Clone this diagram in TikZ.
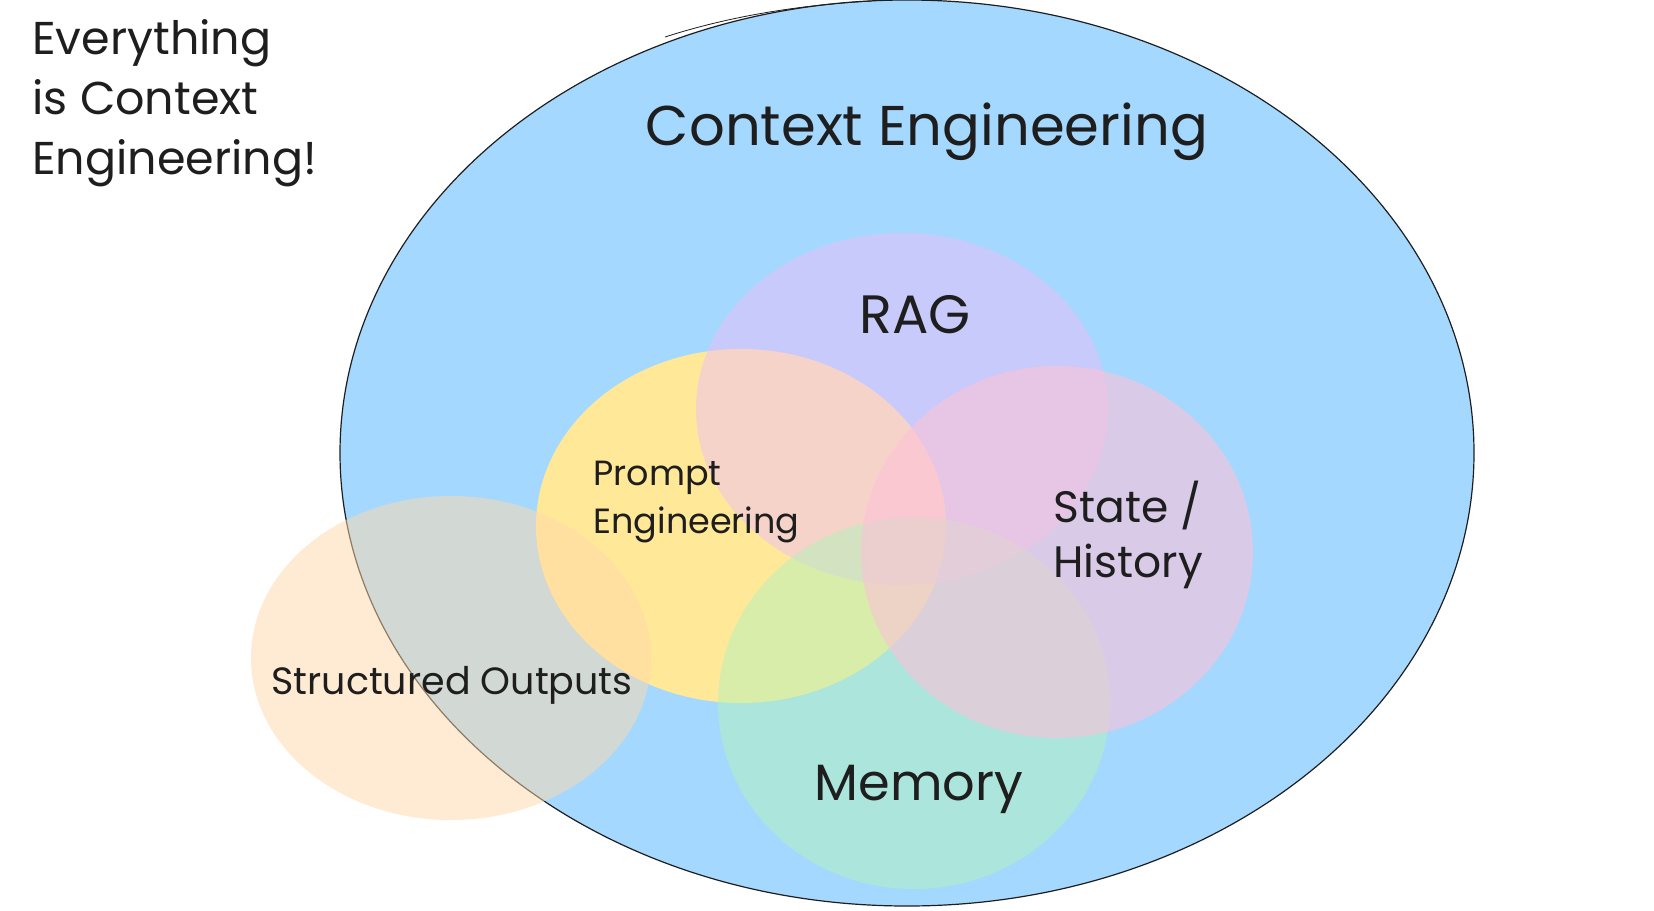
\documentclass[tikz,border=0pt]{standalone}
\usepackage{fontspec}
\setmainfont{Poppins}
\definecolor{inkc}{HTML}{1E1E1E}
\definecolor{bluec}{HTML}{A5D8FF}
\definecolor{yellowc}{HTML}{FFE999}
\definecolor{grapec}{HTML}{EEBEFA}
\definecolor{greenc}{HTML}{B2F2BB}
\definecolor{pinkc}{HTML}{FCC2D7}
\definecolor{orangec}{HTML}{FFD8A8}
\tikzset{
  lbl/.style={text=inkc, inner sep=0pt, align=left},
}
\begin{document}
\begin{tikzpicture}[x=0.5pt,y=-0.5pt]
\useasboundingbox (0,0) rectangle (1654,910);
\fill[white] (0,0) rectangle (1654,910);
% outer ellipse
\filldraw[fill=bluec, draw=inkc, line width=0.6pt] (907,453) ellipse [x radius=283.5pt, y radius=226.5pt];
\draw[inkc, line width=0.4pt] (665,37) .. controls (730,16) and (800,5) .. (872,1);
% inner blobs
\fill[yellowc] (741,526) ellipse [x radius=102.5pt, y radius=88.5pt];
\fill[grapec, fill opacity=0.5] (902,409) ellipse [x radius=103pt, y radius=88pt];
\fill[greenc, fill opacity=0.5] (914,703) ellipse [x radius=98pt, y radius=93pt];
\fill[pinkc, fill opacity=0.6] (1057,552) ellipse [x radius=98pt, y radius=93pt];
\fill[orangec, fill opacity=0.5] (451,658) ellipse [x radius=100pt, y radius=81pt];
% labels
\node[lbl, font=\fontsize{23}{30}\selectfont, anchor=north west] (title) at (32,19) {Everything\\is Context\\Engineering!};
\node[lbl, font=\fontsize{28}{32}\selectfont] (ce) at (927,132) {Context Engineering};
\node[lbl, font=\fontsize{27}{32}\selectfont] (rag) at (915,315) {RAG};
\node[lbl, font=\fontsize{17.5}{24}\selectfont, anchor=west] (pe) at (593,502) {Prompt\\Engineering};
\node[lbl, font=\fontsize{22}{27.5}\selectfont, anchor=west] (sh) at (1053,535) {State /\\History};
\node[lbl, font=\fontsize{25.5}{30}\selectfont] (mem) at (919,789) {Memory};
\node[lbl, font=\fontsize{19}{23}\selectfont] (so) at (452,685) {Structured Outputs};
\end{tikzpicture}
\end{document}
